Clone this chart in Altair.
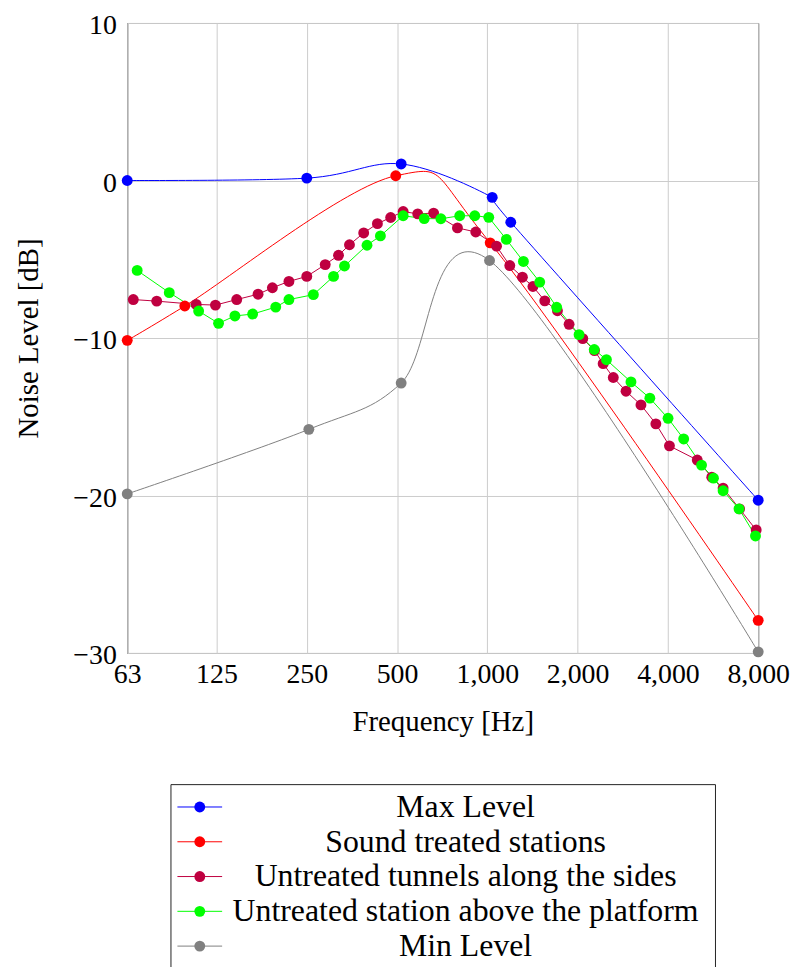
import altair as alt
import pandas as pd

FONT = "Liberation Serif"

names = [
    "Max Level",
    "Sound treated stations",
    "Untreated tunnels along the sides",
    "Untreated station above the platform",
    "Min Level",
]
colors = ["#0000ff", "#ff0000", "#bf0040", "#00ff00", "#808080"]
smooth_names = ["Max Level", "Sound treated stations", "Min Level"]
straight_names = ["Untreated tunnels along the sides", "Untreated station above the platform"]

x_ticks = [63, 125, 250, 500, 1000, 2000, 4000, 8000]
y_ticks = [-30, -20, -10, 0, 10]

max_freq = [63, 250, 516, 1038, 1197, 8000]
max_level = [0.0, 0.15, 1.05, -1.07, -2.65, -20.3]

treated_freq = [63, 98, 495, 1022, 8000]
treated_level = [-10.15, -7.97, 0.3, -3.96, -27.93]

tunnel_freq = [66, 79, 107, 124, 146, 172, 192, 218, 250, 288,
               319, 347, 387, 430, 476, 524, 586, 662, 795, 915,
               1073, 1188, 1309, 1419, 1554, 1713, 1873, 2081, 2276, 2433,
               2630, 2900, 3252, 3646, 4047, 5011, 5601, 6110, 6935, 7877]
tunnel_level = [-7.56, -7.66, -7.87, -7.91, -7.56, -7.22, -6.81, -6.41, -6.09, -5.34,
                -4.75, -4.08, -3.33, -2.74, -2.35, -1.97, -2.12, -2.07, -3.01, -3.27,
                -4.17, -5.40, -6.14, -6.73, -7.64, -8.27, -9.13, -10.04, -10.80, -11.63,
                -12.51, -13.38, -14.25, -15.45, -16.85, -17.75, -18.84, -19.53, -20.85, -22.19]

platform_freq = [68, 87, 109, 127, 144, 165, 197, 218, 263, 307,
                 334, 397, 440, 524, 616, 700, 809, 908, 1011, 1157,
                 1319, 1495, 1703, 2022, 2272, 2495, 3012, 3482, 4004, 4514,
                 5178, 5675, 6110, 6903, 7835]
platform_level = [-5.71, -7.12, -8.29, -9.07, -8.60, -8.48, -8.04, -7.56, -7.25, -6.09,
                  -5.43, -4.11, -3.52, -2.24, -2.42, -2.43, -2.24, -2.24, -2.34, -3.74,
                  -5.14, -6.45, -8.05, -9.79, -10.73, -11.38, -12.79, -13.82, -15.10, -16.41,
                  -18.07, -18.90, -19.70, -20.85, -22.57]

min_freq = [63, 254, 516, 1017, 8000]
min_level = [-19.9, -15.8, -12.86, -5.08, -29.93]

series_data = [
    (names[0], max_freq, max_level),
    (names[1], treated_freq, treated_level),
    (names[2], tunnel_freq, tunnel_level),
    (names[3], platform_freq, platform_level),
    (names[4], min_freq, min_level),
]
rows = []
for i, (name, fr, lv) in enumerate(series_data):
    for f, v in zip(fr, lv):
        rows.append({"series": name, "freq": f, "level": v, "k": i})
df = pd.DataFrame(rows)

color = alt.Color("series:N", scale=alt.Scale(domain=names, range=colors), legend=None)

x = alt.X(
    "freq:Q",
    scale=alt.Scale(type="log", domain=[63, 8000], nice=False),
    axis=alt.Axis(values=x_ticks, format=",d", title="Frequency [Hz]", labelFlush=False),
)
y = alt.Y(
    "level:Q",
    scale=alt.Scale(domain=[-30, 10], nice=False),
    axis=alt.Axis(values=y_ticks, title="Noise Level [dB]", labelOffset=3),
)

base = alt.Chart(df).encode(x=x, y=y, color=color)
smooth = base.transform_filter(
    alt.FieldOneOfPredicate(field="series", oneOf=smooth_names)
).mark_line(interpolate="cardinal", strokeWidth=1)
straight = base.transform_filter(
    alt.FieldOneOfPredicate(field="series", oneOf=straight_names)
).mark_line(strokeWidth=1)
pts = base.mark_point(filled=True, size=120, opacity=1).encode(order=alt.Order("k:Q"))

main = alt.layer(smooth, straight, pts).properties(width=635, height=634)

leg_df = pd.DataFrame({"series": names})
ly = alt.Y(
    "series:N",
    scale=alt.Scale(type="point", domain=names, range=[23, 163], padding=0),
    axis=None,
)
leg_base = alt.Chart(leg_df).encode(y=ly)
leg_rule = leg_base.mark_rule(strokeWidth=1).encode(
    x=alt.value(7), x2=alt.value(52), color=color
)
leg_pt = leg_base.mark_point(filled=True, size=120, opacity=1).encode(
    x=alt.value(29.5), color=color
)
leg_txt = leg_base.mark_text(
    font=FONT, fontSize=32, align="center", baseline="middle", color="black"
).encode(x=alt.value(297), text="series:N")
legend = alt.layer(leg_rule, leg_pt, leg_txt).properties(width=548, height=190)

chart = (
    alt.vconcat(main, legend, spacing=132, bounds="flush", center=True)
    .resolve_scale(x="independent", y="independent")
    .properties(padding={"left": 5, "top": 0, "right": 0, "bottom": 0})
    .configure_view(stroke="#222222", strokeWidth=1)
    .configure_axis(
        labelFont=FONT,
        titleFont=FONT,
        labelFontSize=28,
        titleFontSize=29,
        titleFontWeight="normal",
        labelColor="black",
        titleColor="black",
        gridColor="#cccccc",
        gridWidth=1,
        domain=False,
        ticks=False,
    )
    .configure_axisX(labelPadding=8, titlePadding=19)
    .configure_axisY(labelPadding=11, titlePadding=30)
)

chart.save("out.html", embed_options={"renderer": "svg", "actions": False})
